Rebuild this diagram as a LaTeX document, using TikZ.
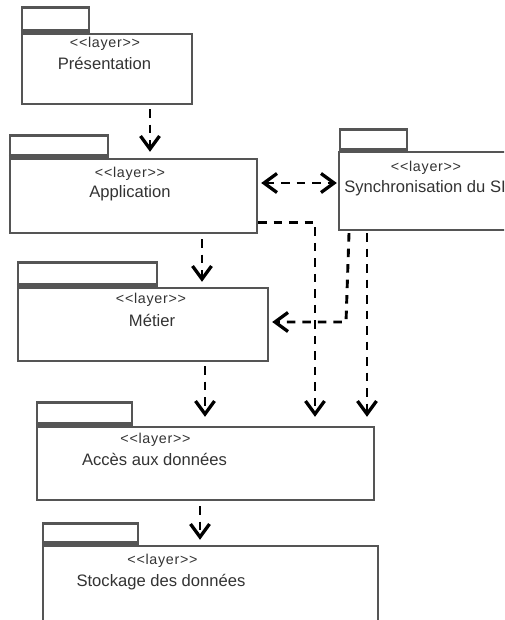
\documentclass[tikz,border=0pt]{standalone}
\usepackage{fontspec}
\setmainfont{Liberation Sans}
\newfontfamily\stereofont[LetterSpace=5]{Liberation Sans}
\usetikzlibrary{arrows.meta}
\definecolor{pkgline}{HTML}{555555}
\definecolor{pkgtext}{HTML}{333333}
\tikzset{
  depbarb/.tip={Straight Barb[length=13pt,width=19pt,line width=3.3pt]},
  pkgbody/.style={draw=pkgline, line width=2.4pt, fill=white, inner sep=0pt,
    minimum width=#1, rectangle},
  pkgtab/.style={draw=pkgline, line width=2.4pt, fill=white, inner sep=0pt,
    rectangle, anchor=south west},
  stereo/.style={anchor=base, inner sep=0pt, text=pkgtext,
    font=\stereofont\fontsize{14.3}{15}\selectfont},
  pkgname/.style={anchor=base, inner sep=0pt, text=pkgtext,
    font=\fontsize{16.6}{18}\selectfont},
  dep/.style={draw=black, line width=2.9pt, dash pattern=on 8.5pt off 7pt,
    arrows={-depbarb}},
  depboth/.style={dep, arrows={depbarb-depbarb}}
}
\begin{document}
\begin{tikzpicture}[x=1pt,y=-1pt]
\useasboundingbox (0,0) rectangle (504,620);
\clip (0,0) rectangle (504,620);

% package bodies
\node[pkgbody=170pt, minimum height=70pt] (pres) at (107,69) {};
\node[pkgbody=247pt, minimum height=74pt] (app) at (133.5,196) {};
\node[pkgbody=250pt, minimum height=73pt] (met) at (143,324.5) {};
\node[pkgbody=337pt, minimum height=73pt] (acc) at (205.5,463.5) {};
\node[pkgbody=335pt, minimum height=94pt] (sto) at (210.5,593) {};
% the synchronisation package runs past the right edge of the page
\node[pkgbody=200pt, minimum height=76pt, draw=none] (sync) at (440,191) {};
\draw[pkgline, line width=2.4pt] (sync.north east) -- (sync.north west)
  -- (sync.south west) -- (sync.south east);

% package tabs
\node[pkgtab, minimum width=67pt, minimum height=23pt] (presTab) at ([yshift=1pt]pres.north west) {};
\node[pkgtab, minimum width=98pt, minimum height=20pt] (appTab) at ([yshift=1pt]app.north west) {};
\node[pkgtab, minimum width=67pt, minimum height=20pt] (syncTab) at ([yshift=1pt]sync.north west) {};
\node[pkgtab, minimum width=139pt, minimum height=22pt] (metTab) at ([yshift=1pt]met.north west) {};
\node[pkgtab, minimum width=95pt, minimum height=21pt] (accTab) at ([yshift=1pt]acc.north west) {};
\node[pkgtab, minimum width=95pt, minimum height=19pt] (stoTab) at ([yshift=1pt]sto.north west) {};
\foreach \t in {presTab,appTab,syncTab,metTab,accTab,stoTab}
  \draw[pkgline, line width=4pt] (\t.south west) -- (\t.south east);

% labels
\node[stereo] (presSt) at (105,48) {<<layer>>};
\node[pkgname] (presName) at (104.5,70) {Présentation};
\node[stereo] (appSt) at (130,178) {<<layer>>};
\node[pkgname] (appName) at (130,197) {Application};
\node[stereo] (syncSt) at (426,172) {<<layer>>};
\node[pkgname] (syncName) at (425,193) {Synchronisation du SI};
\node[stereo] (metSt) at (151,303) {<<layer>>};
\node[pkgname] (metName) at (152,326) {Métier};
\node[stereo] (accSt) at (155.5,443) {<<layer>>};
\node[pkgname] (accName) at (154.5,465) {Accès aux données};
\node[stereo] (stoSt) at (162.5,564) {<<layer>>};
\node[pkgname] (stoName) at (161,586) {Stockage des données};

% dependencies
\draw[dep] ([xshift=43pt,yshift=-4pt]pres.south) -- ([xshift=16.5pt,yshift=6pt]app.north);
\draw[depboth] ([xshift=3pt,yshift=13pt]app.east) -- ([xshift=-2pt,yshift=8pt]sync.west);
\draw[dep] ([xshift=68.5pt,yshift=-5pt]app.south) -- ([xshift=59pt,yshift=5pt]met.north);
\draw[dep] ([yshift=12pt]app.south east) -| ([xshift=109.5pt,yshift=9pt]acc.north);
\coordinate (syncBend) at (346,322);
\draw[dep] ([xshift=-91pt,yshift=-3pt]sync.south) -- (syncBend) -- ([xshift=3pt,yshift=2.5pt]met.east);
\draw[dep] ([xshift=-73pt,yshift=-3pt]sync.south) -- ([xshift=161.5pt,yshift=9pt]acc.north);
\draw[dep] ([xshift=62pt,yshift=-4pt]met.south) -- ([xshift=-0.5pt,yshift=9pt]acc.north);
\draw[dep] ([xshift=-5.5pt,yshift=-5pt]acc.south) -- ([xshift=-10.5pt,yshift=5pt]sto.north);
\end{tikzpicture}
\end{document}
